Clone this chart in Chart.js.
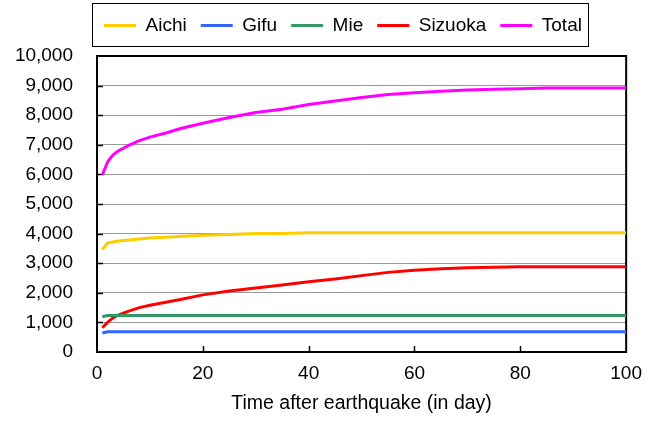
<!DOCTYPE html>
<html>
<head>
<meta charset="utf-8">
<script src="https://cdn.jsdelivr.net/npm/chart.js@4.4.0/dist/chart.umd.min.js"></script>
<style>
  body { margin: 0; background: #fff; }
</style>
</head>
<body>
<canvas id="quakeChart" width="652" height="423"></canvas>
<script>
// days after the earthquake where each curve was sampled
const days = [1, 2, 3, 4, 6, 8, 10, 13, 16, 20, 25, 30, 35, 40, 45, 50, 55, 60, 65, 70, 75, 80, 85, 90, 95, 100];

const aichi   = [3460, 3680, 3720, 3750, 3780, 3820, 3850, 3880, 3910, 3940, 3970, 4000, 4000, 4030, 4030, 4030, 4030, 4030, 4030, 4030, 4030, 4030, 4030, 4030, 4030, 4030];
const gifu    = [640, 680, 680, 680, 680, 680, 680, 680, 680, 680, 680, 680, 680, 680, 680, 680, 680, 680, 680, 680, 680, 680, 680, 680, 680, 680];
const mie     = [1190, 1230, 1230, 1230, 1230, 1230, 1230, 1230, 1230, 1230, 1230, 1230, 1230, 1230, 1230, 1230, 1230, 1230, 1230, 1230, 1230, 1230, 1230, 1230, 1230, 1230];
const sizuoka = [820, 1000, 1150, 1250, 1380, 1500, 1580, 1680, 1780, 1930, 2060, 2160, 2260, 2370, 2470, 2580, 2690, 2760, 2810, 2850, 2860, 2880, 2880, 2880, 2880, 2880];
const total   = [5980, 6420, 6650, 6790, 6980, 7140, 7260, 7400, 7560, 7730, 7920, 8090, 8200, 8360, 8480, 8600, 8700, 8760, 8810, 8850, 8880, 8890, 8915, 8920, 8920, 8920];

const seriesNames  = ["Aichi", "Gifu", "Mie", "Sizuoka", "Total"];
const seriesValues = [aichi, gifu, mie, sizuoka, total];
const seriesColors = ["#ffcc00", "#3366ff", "#339966", "#ff0000", "#ff00ff"];

const xTicks = [0, 20, 40, 60, 80, 100];
const yMax = 10000;
const yStep = 1000;

const FONT = { family: "'Liberation Sans', Arial, sans-serif", size: 19 };

// box around the plot and the little inward tick marks
const framePlugin = {
  id: "frame",
  beforeDatasetsDraw(chart) {
    const { ctx, chartArea: a, scales } = chart;
    ctx.save();
    ctx.strokeStyle = "#000";
    ctx.lineWidth = 1.5;
    ctx.beginPath();
    for (let v = yStep; v < yMax; v += yStep) {
      const y = Math.round(scales.y.getPixelForValue(v)) + 0.5;
      ctx.moveTo(a.left, y);
      ctx.lineTo(a.left + 6, y);
    }
    xTicks.slice(1, -1).forEach(v => {
      const x = Math.round(scales.x.getPixelForValue(v)) + 0.5;
      ctx.moveTo(x, a.bottom);
      ctx.lineTo(x, a.bottom - 6);
    });
    ctx.stroke();
    ctx.lineWidth = 2;
    ctx.strokeRect(a.left, a.top, a.right - a.left, a.bottom - a.top);
    ctx.restore();
  }
};

// legend: taller slot, nudged right, thin black border
const legendBoxPlugin = {
  id: "legendBox",
  beforeInit(chart) {
    const fit = chart.legend.fit;
    chart.legend.fit = function () {
      fit.call(this);
      this.height += 13;
    };
  },
  afterLayout(chart) {
    const lg = chart.legend;
    lg.left += 28;
    lg.right += 28;
    lg.top += 2;
    lg.bottom += 2;
  },
  afterDraw(chart) {
    const boxes = chart.legend.legendHitBoxes;
    if (!boxes || !boxes.length) return;
    const first = boxes[0], last = boxes[boxes.length - 1];
    const mid = first.top + first.height / 2;
    const { ctx } = chart;
    ctx.save();
    ctx.strokeStyle = "#000";
    ctx.lineWidth = 1;
    ctx.strokeRect(Math.round(first.left - 12) + 0.5, Math.round(mid - 23) + 0.5,
      Math.round(last.left + last.width + 6 - first.left + 12), 43);
    ctx.restore();
  }
};

const datasets = seriesNames.map((name, i) => ({
  label: name,
  data: days.map((d, j) => ({ x: d, y: seriesValues[i][j] })),
  borderColor: seriesColors[i],
  backgroundColor: seriesColors[i],
  borderWidth: 3,
  pointRadius: 0,
  tension: 0,
  fill: false
}));

new Chart(document.getElementById("quakeChart"), {
  type: "line",
  data: { datasets },
  plugins: [framePlugin, legendBoxPlugin],
  options: {
    responsive: false,
    animation: false,
    devicePixelRatio: 1,
    layout: { padding: { left: 0, right: 22, top: 0, bottom: 0 } },
    plugins: {
      tooltip: { enabled: false },
      legend: {
        position: "top",
        labels: {
          font: FONT,
          color: "#000",
          boxWidth: 32,
          boxHeight: 3,
          padding: 14,
          generateLabels: chart =>
            Chart.defaults.plugins.legend.labels.generateLabels(chart).map(l => ({ ...l, lineWidth: 0 }))
        }
      }
    },
    scales: {
      x: {
        type: "linear",
        min: 0,
        max: 100,
        afterBuildTicks: scale => { scale.ticks = xTicks.map(v => ({ value: v })); },
        ticks: { font: FONT, color: "#000", padding: 10, maxRotation: 0 },
        grid: { display: false, drawTicks: false },
        border: { display: false },
        title: {
          display: true,
          text: "Time after earthquake (in day)",
          font: { family: FONT.family, size: 19.5 },
          color: "#000",
          padding: { top: 0, bottom: 8 }
        },
        afterFit: scale => { scale.height = 71; }
      },
      y: {
        min: 0,
        max: yMax,
        ticks: {
          stepSize: yStep,
          font: FONT,
          color: "#000",
          padding: 24,
          callback: v => v.toLocaleString("en-US")
        },
        grid: { color: "#999", lineWidth: 1, drawTicks: false },
        border: { display: false },
        afterFit: scale => { scale.width = 97; }
      }
    }
  }
});
</script>
</body>
</html>
